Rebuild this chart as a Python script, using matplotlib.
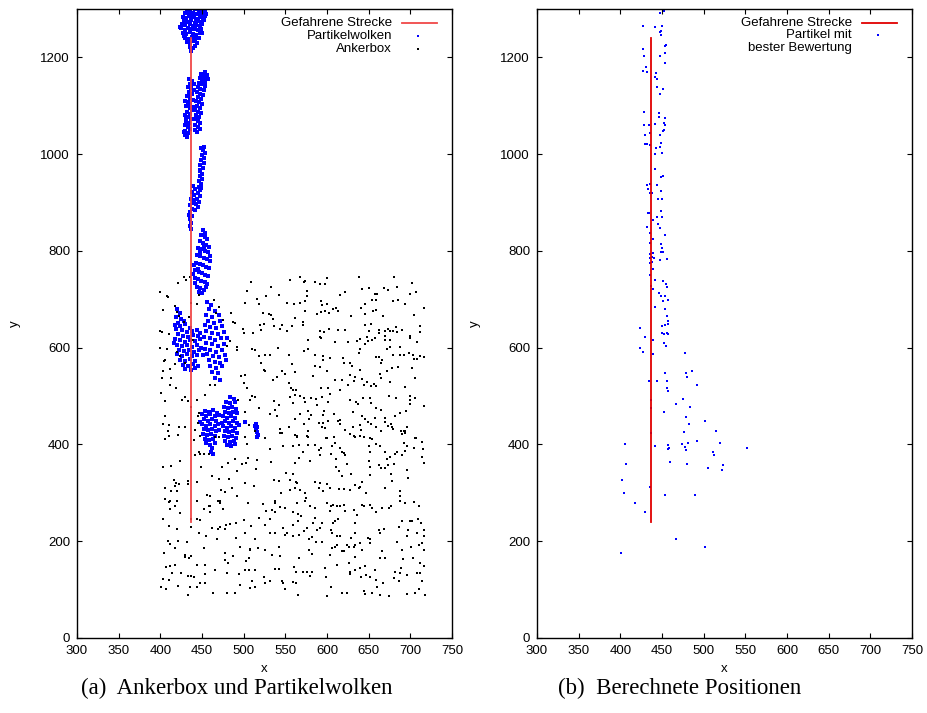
import matplotlib.pyplot as plt
import numpy as np

plt.rcParams["font.family"] = ["Liberation Sans", "DejaVu Sans"]

# driven route (same in both panels)
route_x = [437, 437]
route_y = [240, 1240]

# anchor box points
anchor_pts = [
    (568, 746), (573, 738), (572, 736), (585, 736), (592, 732), (597, 731), (600, 745), (638, 747),
    (680, 746), (702, 733), (576, 718), (576, 707), (615, 708), (622, 715), (642, 721), (650, 723),
    (657, 711), (660, 711), (668, 723), (673, 720), (684, 725), (700, 711), (707, 715), (560, 690),
    (568, 692), (574, 696), (573, 676), (593, 696), (600, 690), (594, 689), (588, 669), (593, 673),
    (598, 675), (602, 671), (607, 680), (611, 682), (613, 675), (629, 665), (641, 682), (645, 669),
    (655, 676), (659, 678), (645, 690), (654, 698), (659, 698), (667, 666), (679, 697), (685, 699),
    (693, 690), (704, 668), (716, 683), (561, 661), (571, 653), (571, 647), (558, 644), (591, 635),
    (596, 632), (602, 639), (613, 636), (621, 637), (645, 646), (650, 634), (653, 649), (662, 636),
    (662, 630), (669, 634), (673, 638), (675, 634), (679, 634), (684, 632), (690, 636), (683, 643),
    (711, 644), (711, 632), (699, 625), (700, 620), (708, 611), (577, 616), (591, 623), (593, 620),
    (609, 611), (625, 611), (636, 614), (640, 618), (646, 608), (649, 613), (654, 616), (648, 622),
    (658, 620), (669, 625), (670, 615), (676, 615), (675, 601), (672, 597), (687, 601), (577, 597),
    (572, 594), (586, 585), (595, 583), (595, 574), (604, 578), (619, 578), (620, 569), (627, 568),
    (630, 563), (638, 590), (640, 597), (659, 580), (662, 580), (666, 575), (665, 569), (679, 585),
    (688, 585), (692, 585), (698, 589), (703, 585), (704, 576), (711, 582), (708, 576), (716, 580),
    (558, 566), (585, 563), (591, 561), (600, 552), (562, 549), (583, 542), (609, 534), (618, 534),
    (628, 543), (633, 539), (639, 554), (632, 532), (642, 535), (648, 530), (644, 522), (653, 521),
    (656, 525), (659, 520), (664, 545), (665, 537), (672, 551), (675, 529), (678, 558), (685, 561),
    (702, 559), (706, 537), (559, 512), (563, 513), (562, 503), (567, 501), (572, 497), (581, 497),
    (587, 494), (594, 499), (593, 516), (601, 516), (604, 505), (615, 512), (625, 522), (628, 492),
    (643, 496), (651, 497), (653, 485), (659, 476), (665, 472), (674, 501), (683, 497), (694, 518),
    (700, 501), (705, 497), (700, 491), (700, 483), (559, 485), (562, 453), (567, 463), (573, 487),
    (577, 470), (581, 460), (578, 453), (588, 482), (595, 461), (596, 469), (601, 487), (598, 435),
    (601, 448), (608, 462), (613, 449), (616, 451), (631, 467), (635, 487), (637, 484), (642, 458),
    (645, 453), (649, 446), (653, 442), (658, 454), (659, 436), (669, 454), (669, 446), (673, 439),
    (678, 437), (681, 459), (688, 465), (695, 469), (716, 480), (564, 418), (576, 418), (590, 444),
    (595, 444), (594, 437), (599, 413), (608, 416), (616, 442), (622, 430), (627, 421), (633, 416),
    (631, 437), (640, 441), (641, 430), (644, 416), (652, 413), (665, 427), (677, 442), (679, 432),
    (689, 428), (692, 428), (696, 437), (693, 423), (707, 414), (572, 443),
    (562, 420), (564, 416), (577, 427), (577, 416), (559, 396), (566, 399), (577, 399), (571, 385),
    (586, 399), (590, 389), (593, 392), (591, 378), (600, 413), (608, 415), (610, 402), (606, 396),
    (615, 392), (618, 385), (620, 382), (622, 378), (627, 422), (632, 418), (639, 418), (654, 411),
    (650, 397), (659, 401), (664, 396), (670, 385), (652, 385), (650, 365), (605, 380), (611, 370),
    (562, 362), (566, 371), (580, 365), (611, 354), (614, 346), (624, 359), (629, 338), (618, 334),
    (652, 354), (651, 337), (662, 358), (665, 351), (670, 351), (673, 358), (680, 359), (672, 369),
    (676, 375), (682, 380), (684, 385), (690, 378), (696, 396), (694, 387), (692, 402), (690, 422),
    (694, 427), (706, 413), (714, 406), (715, 390), (704, 392), (714, 374), (716, 362), (696, 347),
    (697, 330), (677, 338), (678, 325), (559, 338), (563, 323), (564, 320), (562, 309), (568, 306),
    (574, 299), (575, 289), (573, 283), (564, 278), (586, 322), (592, 321), (600, 318), (590, 311),
    (595, 303), (603, 309), (614, 307), (620, 307), (627, 305), (634, 316), (639, 313), (642, 323),
    (638, 309), (647, 299), (669, 309), (688, 304), (687, 294), (687, 284), (694, 280), (704, 282),
    (710, 272), (559, 261), (565, 256), (569, 253), (580, 272), (586, 268), (600, 278), (605, 273),
    (603, 263), (607, 275), (612, 272), (616, 273), (620, 275), (622, 263), (632, 265), (642, 275),
    (644, 272), (652, 275), (654, 268), (659, 261), (666, 268), (674, 269), (677, 272), (690, 242),
    (699, 241), (702, 241), (709, 245), (713, 237), (716, 223), (559, 234), (565, 241), (576, 228),
    (583, 237), (586, 247), (588, 223), (594, 237), (592, 228), (605, 223), (607, 238), (609, 241),
    (613, 245), (606, 216), (612, 211), (615, 211), (636, 254), (634, 237), (662, 223), (668, 225),
    (663, 216), (686, 230), (697, 223), (696, 210), (708, 216), (716, 210), (559, 210), (566, 213),
    (572, 221), (578, 204), (582, 208), (587, 199), (594, 199), (606, 187), (610, 189), (612, 192),
    (620, 180), (624, 192), (626, 189), (629, 206), (632, 189), (634, 192), (634, 216), (639, 196),
    (642, 181), (649, 206), (652, 196), (651, 205), (666, 179), (684, 199), (690, 182), (701, 189),
    (710, 192), (716, 182), (714, 196), (578, 182), (582, 173), (566, 166), (604, 172), (618, 179),
    (633, 168), (664, 165), (669, 166), (691, 163), (703, 166), (712, 154), (716, 148), (560, 146),
    (563, 137), (571, 137), (576, 137), (582, 137), (580, 129), (598, 145), (599, 127), (612, 151),
    (626, 156), (628, 137), (627, 132), (633, 141), (639, 145), (641, 127), (646, 148), (647, 130),
    (652, 127), (659, 120), (660, 106), (657, 141), (667, 113), (680, 123), (681, 137), (689, 144),
    (688, 134), (696, 130), (708, 134), (711, 135), (714, 117), (559, 115), (563, 113), (605, 106),
    (618, 94), (624, 94), (644, 97), (645, 90), (654, 92), (664, 89), (674, 87), (686, 117),
    (696, 91), (706, 94), (710, 101), (565, 88), (600, 86), (717, 88),
    (409, 427), (410, 418), (421, 420), (405, 411), (440, 409), (448, 418), (447, 380), (452, 380),
    (458, 380), (446, 385), (441, 378), (423, 365), (413, 356), (403, 354), (449, 353), (474, 354),
    (481, 361), (489, 369), (498, 360), (505, 371), (503, 361), (492, 346), (515, 349), (516, 368),
    (533, 363), (547, 397), (532, 390), (504, 401), (502, 416), (526, 413), (546, 423), (551, 340),
    (556, 327), (416, 327), (419, 320), (417, 314), (422, 318), (405, 309), (413, 303), (420, 303),
    (433, 325), (433, 318), (444, 323), (462, 334), (470, 328), (482, 328), (486, 311), (473, 306),
    (477, 301), (492, 294), (502, 321), (512, 315), (536, 327), (542, 325), (545, 299), (556, 306),
    (406, 287), (410, 282), (412, 283), (420, 284), (417, 273), (412, 266), (423, 258), (444, 283),
    (456, 296), (460, 294), (469, 284), (472, 283), (471, 280), (458, 272), (460, 272), (452, 266),
    (459, 261), (475, 267), (505, 278), (523, 277), (537, 283), (537, 280), (527, 263), (534, 265),
    (538, 261), (543, 270), (549, 269), (559, 261), (403, 245), (437, 245), (444, 245), (447, 244),
    (500, 244), (518, 247), (532, 245), (410, 232), (420, 225), (437, 229), (462, 228), (469, 226),
    (472, 230), (478, 226), (479, 234), (483, 236), (491, 237), (501, 216), (509, 232), (526, 234),
    (532, 216), (537, 218), (547, 228), (552, 218), (446, 216), (455, 210), (468, 204), (491, 206),
    (514, 205), (409, 201), (412, 194), (421, 201), (432, 199), (417, 185), (452, 187), (496, 189),
    (507, 184), (508, 181), (517, 185), (525, 182), (542, 189), (550, 213), (404, 176), (429, 172),
    (430, 168), (434, 166), (437, 170), (477, 175), (478, 161), (487, 170), (506, 165), (503, 159),
    (534, 172), (543, 170), (444, 151), (453, 151), (481, 154), (411, 149), (407, 146), (418, 151),
    (414, 134), (425, 134), (433, 128), (437, 128), (440, 127), (447, 114), (454, 132), (466, 141),
    (480, 134), (494, 132), (501, 141), (506, 141), (514, 141), (524, 127), (532, 117), (538, 143),
    (542, 143), (546, 117), (547, 113), (549, 101), (403, 121), (410, 119), (421, 108), (435, 105),
    (444, 106), (453, 114), (495, 110), (508, 104), (514, 105), (526, 113), (401, 105), (407, 101),
    (433, 89), (463, 92), (480, 92), (489, 94), (510, 117),
    (428, 747), (431, 739), (436, 746), (421, 733), (400, 716), (408, 707), (409, 704), (418, 687),
    (437, 692), (444, 691), (446, 709), (464, 699), (470, 684), (467, 671), (475, 658), (487, 654),
    (490, 651), (485, 671), (483, 613), (492, 596), (502, 692), (504, 718), (509, 735), (516, 700),
    (518, 690), (523, 671), (530, 669), (527, 706), (533, 725), (542, 709), (555, 739), (552, 692),
    (403, 678), (420, 673), (422, 665), (428, 653), (434, 663), (399, 634), (402, 632), (410, 629),
    (400, 599), (408, 597), (405, 575), (404, 572), (411, 556), (402, 538), (403, 551), (413, 537),
    (418, 566), (420, 591), (424, 582), (429, 568), (439, 615), (480, 604), (492, 601), (497, 542),
    (502, 544), (504, 516), (510, 597), (513, 596), (518, 582), (521, 568), (525, 584), (524, 554),
    (526, 551), (531, 585), (541, 600), (535, 534), (540, 539), (546, 551), (549, 546), (554, 585),
    (554, 527), (557, 516), (499, 638), (500, 630), (511, 630), (520, 647), (521, 637), (524, 649),
    (533, 668), (535, 659), (536, 645), (543, 638), (546, 647), (552, 635), (401, 507), (406, 489),
    (412, 523), (419, 516), (426, 492), (430, 498), (433, 489), (437, 478), (444, 492), (446, 466),
    (454, 503), (460, 523), (465, 523), (500, 527), (510, 501), (508, 491), (514, 499), (518, 475),
    (531, 463), (536, 489), (542, 482), (556, 499), (405, 458), (403, 443), (410, 441), (422, 437),
    (430, 437), (445, 458), (445, 444), (442, 429), (466, 416), (470, 416), (493, 492), (502, 468),
    (506, 441), (514, 427), (537, 472), (540, 458), (543, 432), (544, 423), (554, 437),
]

# particle clouds (left panel)
cloud_pts = [
    # top cloud
    (432, 1298), (436, 1296), (441, 1299), (446, 1297), (450, 1295), (453, 1298), (429, 1292), (434, 1290),
    (439, 1291), (444, 1289), (448, 1291), (452, 1288), (427, 1284), (431, 1282), (436, 1285), (440, 1283),
    (443, 1280), (447, 1284), (451, 1281), (454, 1285), (428, 1276), (433, 1274), (437, 1277), (441, 1272),
    (445, 1275), (449, 1273), (452, 1277), (426, 1268), (430, 1266), (435, 1269), (439, 1265), (443, 1267),
    (447, 1264), (450, 1268), (425, 1260), (429, 1257), (433, 1261), (437, 1258), (441, 1259), (445, 1256),
    (449, 1259), (427, 1250), (431, 1248), (435, 1252), (439, 1249), (443, 1247), (447, 1251), (430, 1241),
    (434, 1239), (438, 1242), (442, 1238), (446, 1240), (432, 1232), (436, 1230), (440, 1233), (444, 1229),
    (435, 1222), (439, 1220), (442, 1224), (437, 1214), (428, 1245), (450, 1250), (424, 1262), (455, 1290),
    # double streak around 1100
    (434, 1155), (438, 1152), (440, 1146), (435, 1145), (433, 1138), (437, 1136), (440, 1132), (434, 1128),
    (438, 1124), (432, 1120), (436, 1117), (439, 1112), (433, 1108), (436, 1104), (431, 1100), (435, 1096),
    (438, 1092), (432, 1088), (435, 1084), (430, 1080), (434, 1076), (437, 1072), (431, 1068), (434, 1064),
    (429, 1060), (433, 1056), (436, 1052), (430, 1048), (433, 1044), (429, 1040), (432, 1036), (428, 1045),
    (431, 1075), (436, 1124), (430, 1110), (439, 1098),
    (449, 1165), (452, 1162), (455, 1158), (447, 1157), (450, 1153), (454, 1150), (446, 1148), (449, 1144),
    (453, 1141), (445, 1138), (448, 1135), (452, 1132), (444, 1128), (447, 1125), (451, 1122), (445, 1118),
    (449, 1114), (443, 1110), (446, 1107), (450, 1104), (444, 1100), (448, 1096), (442, 1092), (445, 1088),
    (449, 1085), (443, 1080), (446, 1077), (441, 1072), (445, 1068), (448, 1064), (442, 1060), (445, 1056),
    (441, 1050), (444, 1046), (447, 1052), (456, 1163), (453, 1170), (457, 1155),
    # streaks around 930
    (451, 1008), (453, 1003), (450, 998), (452, 993), (449, 988), (452, 982), (448, 977), (451, 972),
    (448, 966), (450, 960), (447, 955), (450, 949), (446, 944), (449, 938), (446, 932), (448, 926),
    (445, 920), (447, 914), (444, 908), (446, 902), (443, 896), (445, 890), (442, 885), (449, 1012),
    (447, 968), (449, 930), (452, 1015),
    (439, 935), (441, 928), (438, 922), (440, 915), (437, 908), (439, 900), (436, 894), (438, 887),
    (436, 880), (438, 872), (435, 866), (437, 858), (435, 851), (437, 845), (440, 905), (434, 875),
    # cloud around 780
    (451, 843), (454, 838), (449, 832), (453, 828), (456, 824), (447, 820), (451, 817), (455, 813),
    (458, 809), (445, 806), (449, 803), (453, 800), (457, 797), (444, 792), (448, 789), (452, 786),
    (456, 783), (459, 780), (443, 776), (447, 773), (451, 770), (455, 767), (458, 764), (442, 760),
    (446, 757), (450, 754), (454, 751), (457, 748), (441, 744), (445, 741), (449, 738), (453, 735),
    (456, 732), (444, 726), (448, 723), (452, 720), (455, 725), (446, 716), (450, 713), (440, 770),
    (439, 752), (460, 790), (442, 733), (452, 808), (447, 797), (445, 763),
    # two clouds around 610
    (420, 680), (423, 672), (419, 664), (425, 660), (421, 652), (428, 655), (417, 646), (424, 644),
    (430, 648), (436, 640), (419, 638), (426, 636), (432, 632), (438, 634), (444, 637), (421, 628),
    (427, 625), (433, 622), (439, 626), (445, 624), (418, 618), (424, 615), (430, 612), (436, 616),
    (442, 613), (448, 618), (420, 606), (426, 603), (432, 606), (438, 602), (444, 605), (422, 596),
    (428, 593), (434, 596), (440, 592), (446, 595), (420, 586), (426, 583), (432, 586), (438, 582),
    (444, 585), (424, 575), (430, 572), (436, 576), (442, 573), (427, 565), (433, 562), (439, 566),
    (445, 563), (430, 556), (437, 554), (441, 559), (449, 600), (416, 610), (447, 630),
    (456, 694), (461, 688), (458, 680), (465, 676), (455, 668), (462, 664), (470, 668), (457, 656),
    (464, 652), (471, 655), (453, 646), (460, 643), (467, 640), (474, 644), (455, 634), (462, 631),
    (469, 628), (476, 632), (452, 622), (459, 619), (466, 616), (473, 620), (455, 610), (462, 607),
    (469, 604), (476, 608), (453, 598), (460, 595), (467, 592), (474, 596), (456, 586), (463, 583),
    (470, 580), (477, 584), (458, 574), (465, 571), (472, 568), (460, 562), (467, 559), (474, 563),
    (462, 550), (469, 547), (465, 538), (471, 534), (479, 575), (480, 620), (451, 585),
    # clouds around 430
    (453, 470), (458, 468), (463, 471), (468, 466), (450, 462), (455, 459), (460, 462), (465, 458),
    (470, 461), (452, 452), (457, 449), (462, 452), (467, 448), (450, 442), (455, 439), (460, 442),
    (465, 438), (469, 443), (452, 432), (457, 429), (462, 432), (467, 428), (451, 422), (456, 419),
    (461, 422), (466, 418), (453, 412), (458, 409), (463, 412), (455, 402), (460, 399), (465, 404),
    (462, 392), (461, 385), (463, 380), (448, 447), (470, 430),
    (484, 499), (488, 494), (479, 488), (484, 485), (489, 487), (476, 478), (481, 475), (486, 478),
    (491, 474), (477, 468), (482, 465), (487, 468), (492, 464), (475, 458), (480, 455), (485, 458),
    (490, 454), (477, 448), (482, 445), (487, 448), (492, 444), (475, 438), (480, 435), (485, 438),
    (490, 434), (477, 428), (482, 425), (487, 428), (492, 424), (476, 418), (481, 415), (486, 418),
    (491, 414), (478, 408), (483, 405), (488, 408), (480, 398), (485, 396), (490, 401), (494, 440),
    (474, 445),
    (515, 443), (516, 437), (515, 432), (516, 426), (517, 420), (516, 415), (514, 438), (501, 447),
]

# best-rated particles (right panel)
best_pts = [
    (447.6, 1292), (452, 1296), (427, 1264), (442, 1263), (450, 1265), (447, 1253), (449, 1255), (449, 1246),
    (455, 1225), (454, 1224), (427, 1217), (453, 1210), (428, 1202), (448, 1202), (454, 1188), (431, 1181),
    (427, 1171), (432, 1169), (443, 1168), (442, 1160), (444, 1156), (444, 1138), (451, 1134), (447, 1125),
    (428, 1087), (446, 1086), (446, 1077), (454, 1074), (441, 1063), (428, 1060), (434, 1061), (452, 1064),
    (454, 1061), (452, 1050), (451, 1048), (435, 1044), (429, 1040), (447, 1039), (449, 1023), (430, 1021),
    (432, 1021), (436, 1018), (447, 1014), (443, 1012), (450, 1003), (442, 1001), (442, 969), (449, 953),
    (451, 955), (435, 938), (432, 936), (444, 936), (433, 928), (436, 920), (438, 920), (449, 923),
    (450, 908), (445, 907), (449, 883), (433, 878), (434, 879), (444, 871), (450, 870), (439, 864),
    (445, 855), (448, 848), (432, 850), (435, 837), (453, 832), (439, 825), (436, 817), (436, 816),
    (449, 815), (450, 806), (449, 798), (451, 797), (436, 794), (439, 796), (436, 786), (438, 787),
    (440, 786), (447, 781), (456, 783), (438, 778), (436, 776), (439, 763), (435, 750), (441, 739),
    (451, 738), (455, 732), (456, 725), (437, 728), (439, 722), (446, 713), (449, 707), (454, 707),
    (451, 697), (457, 699), (441, 685), (454, 680), (456, 666),
    (457, 655), (457, 650), (450, 645), (454, 647), (423, 640), (452, 629), (450, 630), (456, 630),
    (457, 629), (429, 622), (439, 615), (452, 610), (455, 603), (423, 600), (427, 591), (439, 587),
    (478, 589), (486, 552), (454, 547), (479, 547), (480, 539), (434, 531), (444, 532), (456, 532),
    (492, 523), (456, 516), (457, 510), (475, 494), (467, 483), (484, 477), (437, 491), (437, 476),
    (452, 468), (479, 457), (482, 442), (501, 448), (437, 424), (476, 425), (515, 428), (405, 400),
    (442, 396), (457, 398), (458, 393), (457, 391), (474, 400), (481, 403), (477, 394), (479, 388),
    (492, 408), (520, 403), (511, 384), (512, 379), (552, 392), (407, 360), (459, 364), (480, 359),
    (523, 357), (505, 351), (522, 347), (402, 327), (404, 300), (436, 313), (453, 296), (490, 296),
    (418, 278), (429, 260), (467, 204), (502, 189), (401, 176),
]

x_ticks = np.arange(300, 751, 50)
y_ticks = np.arange(0, 1201, 200)

anchor = np.array(anchor_pts)
cloud = np.array(cloud_pts)
best = np.array(best_pts)

fig = plt.figure(figsize=(9.27, 7.13), dpi=100)
ax1 = fig.add_axes([77 / 927, 75 / 713, 375 / 927, 629 / 713])
ax2 = fig.add_axes([537 / 927, 75 / 713, 375 / 927, 629 / 713])

# left: anchor box and particle clouds
ax1.plot(anchor[:, 0], anchor[:, 1], ls="none", marker="s", ms=2.0, mew=0, color="black", zorder=2)
ax1.plot(cloud[:, 0], cloud[:, 1], ls="none", marker="s", ms=3.3, mew=0, color="#0000ff", zorder=1)
ax1.plot(route_x, route_y, color="#f04848", lw=1.3, zorder=3)

# right: best particles
ax2.plot(best[:, 0], best[:, 1], ls="none", marker="s", ms=2.0, mew=0, color="#0000ff", zorder=2)
ax2.plot(route_x, route_y, color="#e00000", lw=1.3, zorder=3)

for ax in (ax1, ax2):
    ax.set_xlim(300, 750)
    ax.set_ylim(0, 1300)
    ax.set_xticks(x_ticks)
    ax.set_yticks(y_ticks)
    ax.tick_params(direction="in", top=True, right=True, length=3.6, width=0.8,
                   labelsize=9.5, pad=5)
    for sp in ax.spines.values():
        sp.set_linewidth(1.0)
    ax.set_xlabel("x", fontsize=9.5, labelpad=4)
    ax.set_ylabel("y", fontsize=9.5, labelpad=14)


# gnuplot-style keys: text right-aligned, sample to the right
def key_row(ax, y, label, color=None, line=False):
    ax.text(0.84, y, label, transform=ax.transAxes, ha="right", va="center", fontsize=9.5)
    if line:
        ax.plot([0.867, 0.96], [y, y], transform=ax.transAxes, color=color, lw=1.3, clip_on=False)
    elif color is not None:
        ax.plot([0.909], [y], transform=ax.transAxes, marker="s", ms=1.7, mew=0,
                color=color, ls="none")


key_row(ax1, 0.978, "Gefahrene Strecke", "#f04848", line=True)
key_row(ax1, 0.957, "Partikelwolken", "#0000ff")
key_row(ax1, 0.936, "Ankerbox", "black")

key_row(ax2, 0.978, "Gefahrene Strecke", "#e00000", line=True)
key_row(ax2, 0.959, "Partikel mit", "#0000ff")
key_row(ax2, 0.938, "bester Bewertung")

fig.text(237 / 927, 1 - 688 / 713, "(a)  Ankerbox und Partikelwolken", ha="center", va="center",
         family=["Liberation Serif", "DejaVu Serif"], fontsize=16.5)
fig.text(680 / 927, 1 - 688 / 713, "(b)  Berechnete Positionen", ha="center", va="center",
         family=["Liberation Serif", "DejaVu Serif"], fontsize=16.5)

fig.savefig("out.png", dpi=100)
